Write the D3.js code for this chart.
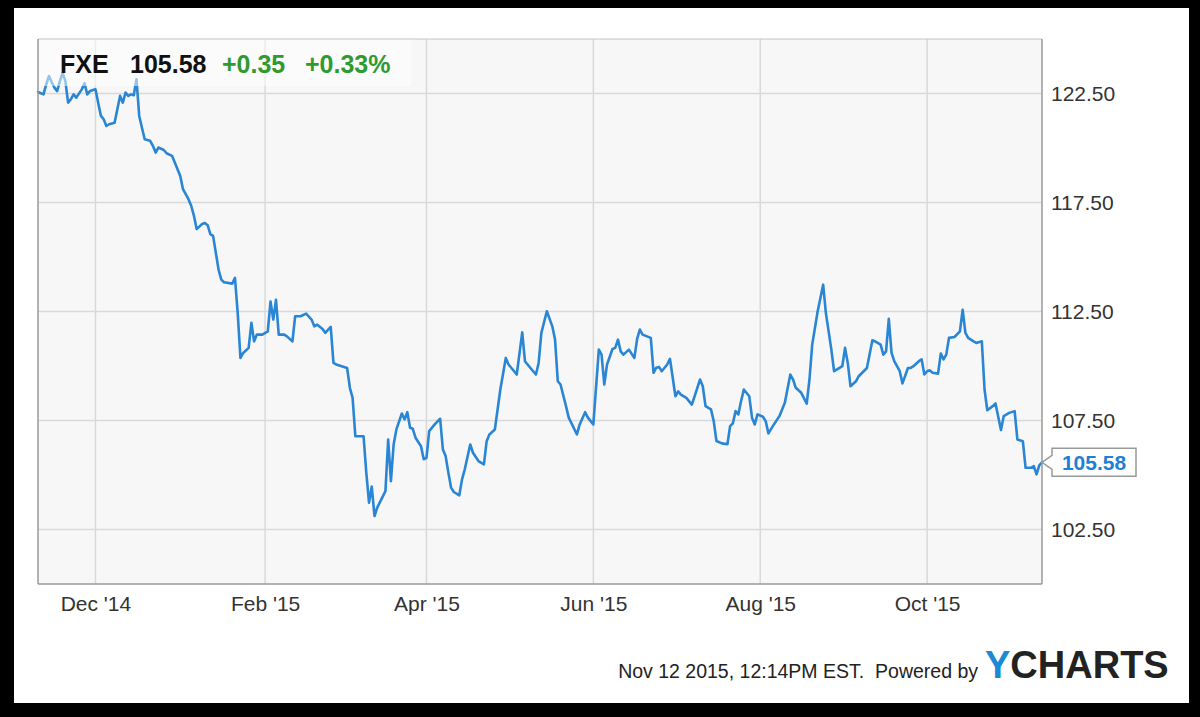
<!DOCTYPE html>
<html><head><meta charset="utf-8">
<script src="https://cdn.jsdelivr.net/npm/d3@7"></script>
<style>html,body{margin:0;padding:0;background:#000;} svg{display:block;}</style>
</head><body>
<svg id="chart" width="1200" height="717"></svg>
<script>
// ---- data ----
const dates = [
"2014-11-10","2014-11-12","2014-11-13","2014-11-14","2014-11-15","2014-11-16","2014-11-17","2014-11-18","2014-11-19","2014-11-20",
"2014-11-21","2014-11-22","2014-11-23","2014-11-24","2014-11-26","2014-11-27","2014-11-28","2014-11-29","2014-12-01","2014-12-02",
"2014-12-03","2014-12-04","2014-12-05","2014-12-06","2014-12-08","2014-12-09","2014-12-10","2014-12-11","2014-12-12","2014-12-13",
"2014-12-14","2014-12-15","2014-12-16","2014-12-17","2014-12-18","2014-12-19","2014-12-20","2014-12-21","2014-12-22","2014-12-23",
"2014-12-24","2014-12-26","2014-12-27","2014-12-29","2014-12-30","2015-01-01","2015-01-02","2015-01-04","2015-01-05","2015-01-06",
"2015-01-07","2015-01-09","2015-01-10","2015-01-11","2015-01-12","2015-01-13","2015-01-15","2015-01-16","2015-01-17","2015-01-20",
"2015-01-21","2015-01-22","2015-01-23","2015-01-24","2015-01-26","2015-01-27","2015-01-28","2015-01-29","2015-01-31","2015-02-02",
"2015-02-03","2015-02-04","2015-02-05","2015-02-06","2015-02-08","2015-02-09","2015-02-11","2015-02-12","2015-02-14","2015-02-16",
"2015-02-18","2015-02-19","2015-02-20","2015-02-22","2015-02-23","2015-02-25","2015-02-26","2015-02-27","2015-03-01","2015-03-03",
"2015-03-04","2015-03-05","2015-03-06","2015-03-09","2015-03-10","2015-03-11","2015-03-12","2015-03-13","2015-03-14","2015-03-17",
"2015-03-18","2015-03-19","2015-03-20","2015-03-21","2015-03-23","2015-03-24","2015-03-25","2015-03-26","2015-03-27","2015-03-28",
"2015-03-30","2015-03-31","2015-04-01","2015-04-02","2015-04-04","2015-04-06","2015-04-07","2015-04-08","2015-04-09","2015-04-10",
"2015-04-11","2015-04-13","2015-04-14","2015-04-15","2015-04-17","2015-04-18","2015-04-20","2015-04-22","2015-04-23","2015-04-24",
"2015-04-26","2015-04-28","2015-04-30","2015-05-01","2015-05-04","2015-05-06","2015-05-07","2015-05-09","2015-05-11","2015-05-12",
"2015-05-13","2015-05-15","2015-05-17","2015-05-18","2015-05-19","2015-05-20","2015-05-22","2015-05-23","2015-05-26","2015-05-27",
"2015-05-29","2015-05-30","2015-06-01","2015-06-03","2015-06-04","2015-06-05","2015-06-06","2015-06-08","2015-06-09","2015-06-10",
"2015-06-11","2015-06-12","2015-06-14","2015-06-16","2015-06-17","2015-06-18","2015-06-19","2015-06-22","2015-06-23","2015-06-24",
"2015-06-25","2015-06-26","2015-06-28","2015-06-29","2015-07-01","2015-07-02","2015-07-03","2015-07-05","2015-07-07","2015-07-08",
"2015-07-10","2015-07-11","2015-07-12","2015-07-14","2015-07-15","2015-07-16","2015-07-18","2015-07-20","2015-07-21","2015-07-22",
"2015-07-23","2015-07-24","2015-07-25","2015-07-26","2015-07-28","2015-07-29","2015-07-30","2015-07-31","2015-08-02","2015-08-03",
"2015-08-04","2015-08-06","2015-08-08","2015-08-10","2015-08-12","2015-08-13","2015-08-14","2015-08-16","2015-08-18","2015-08-19",
"2015-08-20","2015-08-22","2015-08-24","2015-08-25","2015-08-27","2015-08-28","2015-08-30","2015-08-31","2015-09-01","2015-09-02",
"2015-09-03","2015-09-05","2015-09-06","2015-09-09","2015-09-11","2015-09-12","2015-09-14","2015-09-15","2015-09-16","2015-09-17",
"2015-09-18","2015-09-19","2015-09-21","2015-09-22","2015-09-24","2015-09-25","2015-09-26","2015-09-28","2015-09-29","2015-09-30",
"2015-10-01","2015-10-02","2015-10-03","2015-10-05","2015-10-06","2015-10-07","2015-10-08","2015-10-09","2015-10-11","2015-10-13",
"2015-10-14","2015-10-15","2015-10-16","2015-10-18","2015-10-19","2015-10-21","2015-10-22","2015-10-23","2015-10-25","2015-10-26",
"2015-10-28","2015-10-29","2015-10-31","2015-11-02","2015-11-03","2015-11-05","2015-11-06","2015-11-08","2015-11-09","2015-11-10",
"2015-11-11","2015-11-12"
];
const values = [
122.57,122.46,122.92,123.30,123.03,122.77,122.61,123.07,123.45,123.07,
122.08,122.23,122.46,122.31,122.69,122.97,122.46,122.61,122.69,122.08,
121.47,121.32,121.01,121.09,121.16,121.78,122.39,122.08,122.54,122.39,
122.46,122.42,123.15,121.47,120.93,120.40,120.37,120.33,120.10,119.79,
120.02,119.91,119.76,119.64,119.33,118.72,118.11,117.65,117.35,116.89,
116.28,116.51,116.56,116.46,116.05,115.97,114.42,113.96,113.84,113.78,
114.04,112.43,110.37,110.60,110.83,111.98,111.13,111.44,111.44,111.59,
112.96,112.13,113.04,111.44,111.44,111.36,111.13,112.28,112.28,112.40,
112.13,111.82,111.90,111.70,111.52,111.79,110.14,110.07,109.99,109.91,
109.00,108.54,106.78,106.78,105.11,103.73,104.47,103.12,103.50,104.26,
106.63,104.72,106.40,107.09,107.82,107.55,107.88,107.17,107.12,106.71,
106.32,105.72,105.79,107.01,107.32,107.58,106.17,105.87,105.11,104.42,
104.22,104.07,104.80,105.26,106.40,106.02,105.64,105.49,106.55,106.86,
107.09,108.92,110.37,110.07,109.61,111.54,110.22,109.91,109.61,110.14,
111.52,112.51,111.82,111.21,109.30,109.15,108.16,107.63,106.86,107.32,
107.88,107.63,107.32,110.75,110.52,109.15,110.07,110.78,110.83,111.21,
110.67,110.52,110.75,110.37,111.24,111.67,111.44,111.29,109.69,109.92,
109.96,109.76,110.07,110.33,108.61,108.84,108.69,108.54,108.23,108.61,
109.38,109.07,108.16,108.01,107.47,106.56,106.45,106.41,107.24,107.37,
107.93,107.78,108.39,108.92,108.61,107.63,107.32,107.78,107.67,107.47,
106.91,107.32,107.70,108.31,109.61,109.38,109.00,108.77,108.27,109.38,
110.98,112.51,113.73,112.43,110.75,109.76,109.91,109.99,110.83,110.14,
109.07,109.30,109.53,109.91,111.18,111.13,110.98,110.52,110.67,112.16,
110.60,110.22,109.76,109.20,109.91,109.91,109.99,110.22,110.30,109.61,
109.76,109.80,109.69,109.65,110.57,110.30,110.52,111.29,111.33,111.59,
112.58,111.52,111.29,111.13,111.06,111.13,108.92,107.97,108.16,108.28,
107.06,107.70,107.85,107.93,106.63,106.55,105.33,105.33,105.41,105.03,
105.44,105.58
];
const yTickValues = [102.5, 107.5, 112.5, 117.5, 122.5];
const xTickDates = ["2014-12-01","2015-02-01","2015-04-01","2015-06-01","2015-08-01","2015-10-01"];
const xTickLabels = ["Dec '14","Feb '15","Apr '15","Jun '15","Aug '15","Oct '15"];
const ticker = "FXE";
const lastPrice = "105.58";
const changeAbs = "+0.35";
const changePct = "+0.33%";
const footerText = "Nov 12 2015, 12:14PM EST.  Powered by";

// ---- drawing ----
const parse = d3.timeParse("%Y-%m-%d");
const data = dates.map((d, i) => ({date: parse(d), value: values[i]}));
const svg = d3.select("#chart");
const FONT = "'Liberation Sans', Arial, Helvetica, sans-serif";

// frame
svg.append("rect").attr("x", 0).attr("y", 0).attr("width", 1200).attr("height", 717).attr("fill", "#000");
svg.append("rect").attr("x", 14).attr("y", 8).attr("width", 1175).attr("height", 695).attr("fill", "#fff");

const L = 38, R = 1042, T = 39, B = 584;
const x = d3.scaleTime().domain([parse("2014-11-10"), parse("2015-11-12")]).range([L, R]);
const y = d3.scaleLinear().domain([100, 125]).range([B, T]);

// plot background
svg.append("rect").attr("x", L).attr("y", T).attr("width", R - L).attr("height", B - T).attr("fill", "#f7f7f7");

// grid
const grid = svg.append("g");
grid.selectAll("line.h").data(yTickValues).join("line")
  .attr("x1", L).attr("x2", R).attr("y1", d => y(d)).attr("y2", d => y(d))
  .attr("stroke", "#d9d9d9").attr("stroke-width", 1.5);
grid.selectAll("line.v").data(xTickDates).join("line")
  .attr("x1", d => x(parse(d))).attr("x2", d => x(parse(d))).attr("y1", T).attr("y2", B)
  .attr("stroke", "#d9d9d9").attr("stroke-width", 1.5);

// line
const line = d3.line().x(d => x(d.date)).y(d => y(d.value));
svg.append("path").datum(data).attr("d", line)
  .attr("fill", "none").attr("stroke", "#2a86d4").attr("stroke-width", 2.6)
  .attr("stroke-linejoin", "round").attr("stroke-linecap", "round");

// legend band (semi-transparent)
svg.append("rect").attr("x", L + 1).attr("y", T).attr("width", 372).attr("height", 47)
  .attr("fill", "#fff").attr("opacity", 0.5);

// plot border
svg.append("line").attr("x1", L).attr("x2", R).attr("y1", T).attr("y2", T).attr("stroke", "#c4c4c4").attr("stroke-width", 1.2);
svg.append("line").attr("x1", L).attr("x2", L).attr("y1", T).attr("y2", B).attr("stroke", "#9a9a9a").attr("stroke-width", 1.5);
svg.append("line").attr("x1", R).attr("x2", R).attr("y1", T).attr("y2", B).attr("stroke", "#9a9a9a").attr("stroke-width", 1.5);
svg.append("line").attr("x1", L).attr("x2", R).attr("y1", B).attr("y2", B).attr("stroke", "#9a9a9a").attr("stroke-width", 1.5);

// legend text
const leg = svg.append("text").attr("x", 60).attr("y", 73)
  .attr("font-family", FONT).attr("font-size", 25).attr("font-weight", "bold");
leg.append("tspan").attr("fill", "#111").text(ticker);
leg.append("tspan").attr("x", 130).attr("fill", "#111").text(lastPrice);
leg.append("tspan").attr("x", 222).attr("fill", "#2f9a2f").text(changeAbs);
leg.append("tspan").attr("x", 305).attr("fill", "#2f9a2f").text(changePct);

// y axis (right)
const yAxis = d3.axisRight(y).tickValues(yTickValues).tickFormat(d3.format(".2f")).tickSize(0).tickPadding(9);
const gy = svg.append("g").attr("transform", `translate(${R},0)`).call(yAxis);
gy.select(".domain").remove();
gy.selectAll("text").attr("font-family", FONT).attr("font-size", 21).attr("fill", "#333");

// x axis
const xAxis = d3.axisBottom(x).tickValues(xTickDates.map(parse))
  .tickFormat((d, i) => xTickLabels[i]).tickSize(0).tickPadding(12);
const gx = svg.append("g").attr("transform", `translate(0,${B})`).call(xAxis);
gx.select(".domain").remove();
gx.selectAll("text").attr("font-family", FONT).attr("font-size", 21).attr("fill", "#333");

// last value marker
const last = data[data.length - 1];
const lx = x(last.date), ly = y(last.value);
const bx = lx + 10, bw = 84, bh = 28;
svg.append("path")
  .attr("d", `M${lx},${ly} L${bx},${ly - 7} L${bx},${ly - bh / 2} L${bx + bw},${ly - bh / 2} L${bx + bw},${ly + bh / 2} L${bx},${ly + bh / 2} L${bx},${ly + 7} Z`)
  .attr("fill", "#fff").attr("stroke", "#999").attr("stroke-width", 1.5);
svg.append("text").attr("x", bx + bw / 2).attr("y", ly + 7.5).attr("text-anchor", "middle")
  .attr("font-family", FONT).attr("font-size", 21).attr("font-weight", "bold").attr("fill", "#1f7fd0")
  .text(d3.format(".2f")(last.value));

// footer
svg.append("text").attr("x", 978).attr("y", 678).attr("text-anchor", "end")
  .attr("font-family", FONT).attr("font-size", 19.5).attr("fill", "#222").attr("xml:space", "preserve")
  .text(footerText);
const logo = svg.append("text").attr("x", 985).attr("y", 678)
  .attr("font-family", FONT).attr("font-size", 38).attr("font-weight", "bold");
logo.append("tspan").attr("fill", "#1a8ad6").text("Y");
logo.append("tspan").attr("fill", "#222").text("CHARTS");
</script>
</body></html>
